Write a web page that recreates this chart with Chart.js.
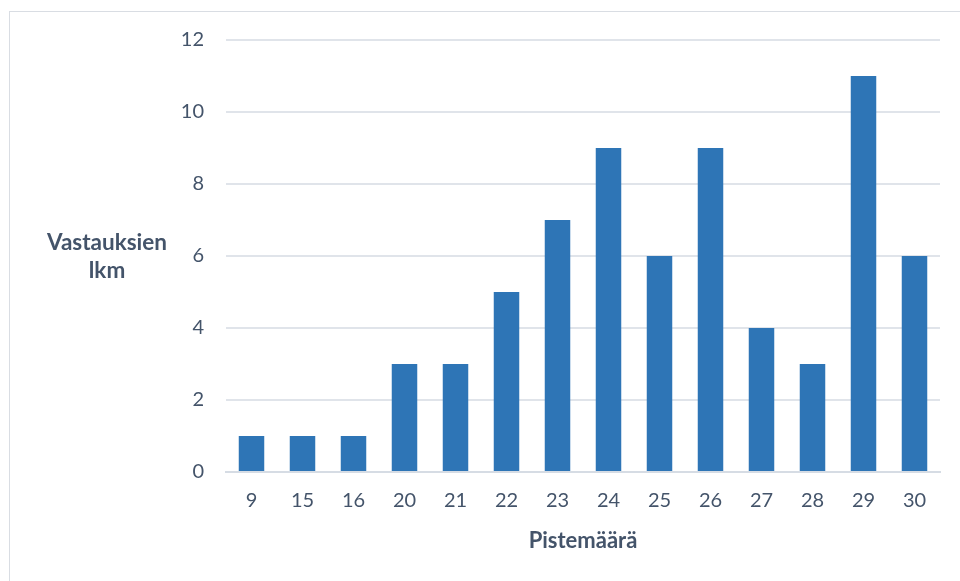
<!DOCTYPE html>
<html>
<head>
<meta charset="utf-8">
<script src="https://cdn.jsdelivr.net/npm/chart.js@4.4.1/dist/chart.umd.min.js"></script>
<style>
  html, body { margin: 0; padding: 0; background: #ffffff; }
  #wrap { position: relative; width: 960px; height: 581px; }
  #frame { position: absolute; left: 9px; top: 11px; right: -2px; bottom: -2px;
           border: 1px solid #d9dde3; box-sizing: border-box; }
  canvas { position: absolute; left: 0; top: 0; }
</style>
</head>
<body>
<div id="wrap">
  <div id="frame"></div>
  <canvas id="c" width="960" height="581"></canvas>
</div>
<script>
// Score values and number of answers per score
const categories = ['9', '15', '16', '20', '21', '22', '23', '24', '25', '26', '27', '28', '29', '30'];
const answerCounts = [1, 1, 1, 3, 3, 5, 7, 9, 6, 9, 4, 3, 11, 6];
const yTicks = [0, 2, 4, 6, 8, 10, 12];
const xTitle = 'Pistemäärä';
const yTitleLines = ['Vastauksien', 'lkm'];

const textColor = '#44546A';
const fontFamily = 'Lato, "Noto Sans", sans-serif';

// Horizontal two-line title to the left of the value axis
const yTitlePlugin = {
  id: 'yTitle',
  afterDraw(chart) {
    const ctx = chart.ctx;
    const area = chart.chartArea;
    ctx.save();
    ctx.font = 'bold 22.5px ' + fontFamily;
    ctx.fillStyle = textColor;
    ctx.textAlign = 'center';
    ctx.textBaseline = 'middle';
    const cx = 107;
    const cy = (area.top + area.bottom) / 2;
    const lh = 28;
    yTitleLines.forEach((line, i) => {
      ctx.fillText(line, cx, cy - lh / 2 + i * lh + 1);
    });
    ctx.restore();
  }
};

new Chart(document.getElementById('c'), {
  type: 'bar',
  data: {
    labels: categories,
    datasets: [{
      data: answerCounts,
      backgroundColor: '#2E75B6',
      borderWidth: 0,
      categoryPercentage: 0.5,
      barPercentage: 1.0
    }]
  },
  options: {
    responsive: false,
    animation: false,
    devicePixelRatio: 1,
    layout: { padding: { top: 40, right: 20, bottom: 0, left: 0 } },
    plugins: { legend: { display: false }, tooltip: { enabled: false } },
    scales: {
      x: {
        grid: { display: false, drawTicks: false },
        border: { display: true, color: '#D6DCE4', width: 2 },
        ticks: { color: textColor, font: { family: fontFamily, size: 20 }, padding: 17, maxRotation: 0 },
        title: {
          display: true, text: xTitle, color: textColor,
          font: { family: fontFamily, size: 22, weight: 'bold' },
          padding: { top: 0, bottom: 27 }
        },
        afterFit(scale) { scale.height = 581 - 472; }
      },
      y: {
        min: 0, max: 12,
        afterBuildTicks(scale) { scale.ticks = yTicks.map(v => ({ value: v })); },
        grid: { color: '#E0E4EA', lineWidth: 2, drawTicks: false },
        border: { display: false },
        ticks: { color: textColor, font: { family: fontFamily, size: 20 }, padding: 22 },
        afterFit(scale) { scale.width = 226; }
      }
    }
  },
  plugins: [yTitlePlugin]
});
</script>
</body>
</html>
